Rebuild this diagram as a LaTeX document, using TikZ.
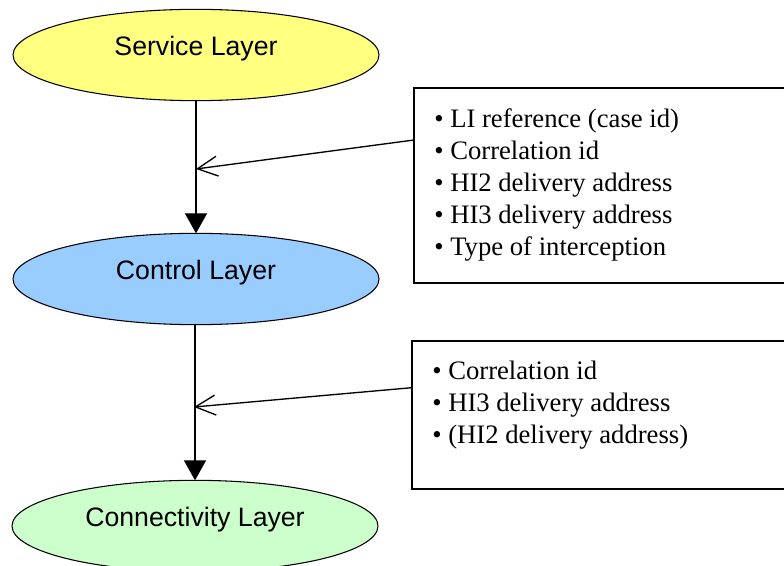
\documentclass[tikz,border=0pt]{standalone}
\usepackage{fontspec}
\setmainfont{Liberation Serif}
\newfontfamily\arialfont{Liberation Sans}
\usetikzlibrary{shapes.geometric,arrows.meta}
\definecolor{svcFill}{HTML}{FFFF80}
\definecolor{ctlFill}{HTML}{99CCFF}
\definecolor{conFill}{HTML}{CCFFCC}
\tikzset{
  layer/.style={ellipse, draw=black, line width=0.8pt, inner sep=0pt, outer sep=0pt,
    minimum width=274.5pt, minimum height=68.5pt},
  lab/.style={font=\arialfont\fontsize{20}{24}\selectfont, text=black},
  infoBox/.style={rectangle, draw=black, line width=1.4pt, inner sep=0pt, outer sep=0pt, anchor=north west},
  items/.style={font=\fontsize{20}{24}\selectfont, align=left, inner sep=0pt, anchor=north west},
  flow/.style={line width=1pt, -{Triangle[length=15pt,width=16.5pt]}},
  feed/.style={line width=1pt, -{Straight Barb[length=15pt,width=15pt]}}
}

\begin{document}
\begin{tikzpicture}[x=0.75pt,y=-0.75pt]
\useasboundingbox (0,0) rectangle (784,566);
% layers
\node[layer, fill=svcFill, label={[lab,yshift=5pt]center:Service Layer}] (svc) at (196,55) {};
\node[layer, fill=ctlFill, label={[lab,yshift=5pt]center:Control Layer}] (ctl) at (196,279) {};
\node[layer, fill=conFill, label={[lab,yshift=5pt]center:Connectivity Layer}] (con) at (195,526) {};
\draw[flow] (svc.south) -- (ctl.north);
\draw[flow] (ctl.south -| con.north) -- (con.north);

% parameters from service layer
\node[infoBox, minimum width=282pt, minimum height=146.25pt] (liBox) at (414,88) {};
\node[items] (liList) at ([xshift=15pt,yshift=-15pt]liBox.north west)
  {\textbullet\ LI reference (case id)\\
   \textbullet\ Correlation id\\
   \textbullet\ HI2 delivery address\\
   \textbullet\ HI3 delivery address\\
   \textbullet\ Type of interception};
\coordinate (liIn) at (196,169);
\draw[feed] ([yshift=-39pt]liBox.north west) -- (liIn);

% parameters from control layer
\node[infoBox, minimum width=283.5pt, minimum height=111pt] (ccBox) at (412,341) {};
\node[items] (ccList) at ([xshift=15pt,yshift=-15pt]ccBox.north west)
  {\textbullet\ Correlation id\\
   \textbullet\ HI3 delivery address\\
   \textbullet\ (HI2 delivery address)};
\coordinate (ccIn) at (194,407);
\draw[feed] ([yshift=-35pt]ccBox.north west) -- (ccIn);
\end{tikzpicture}
\end{document}
